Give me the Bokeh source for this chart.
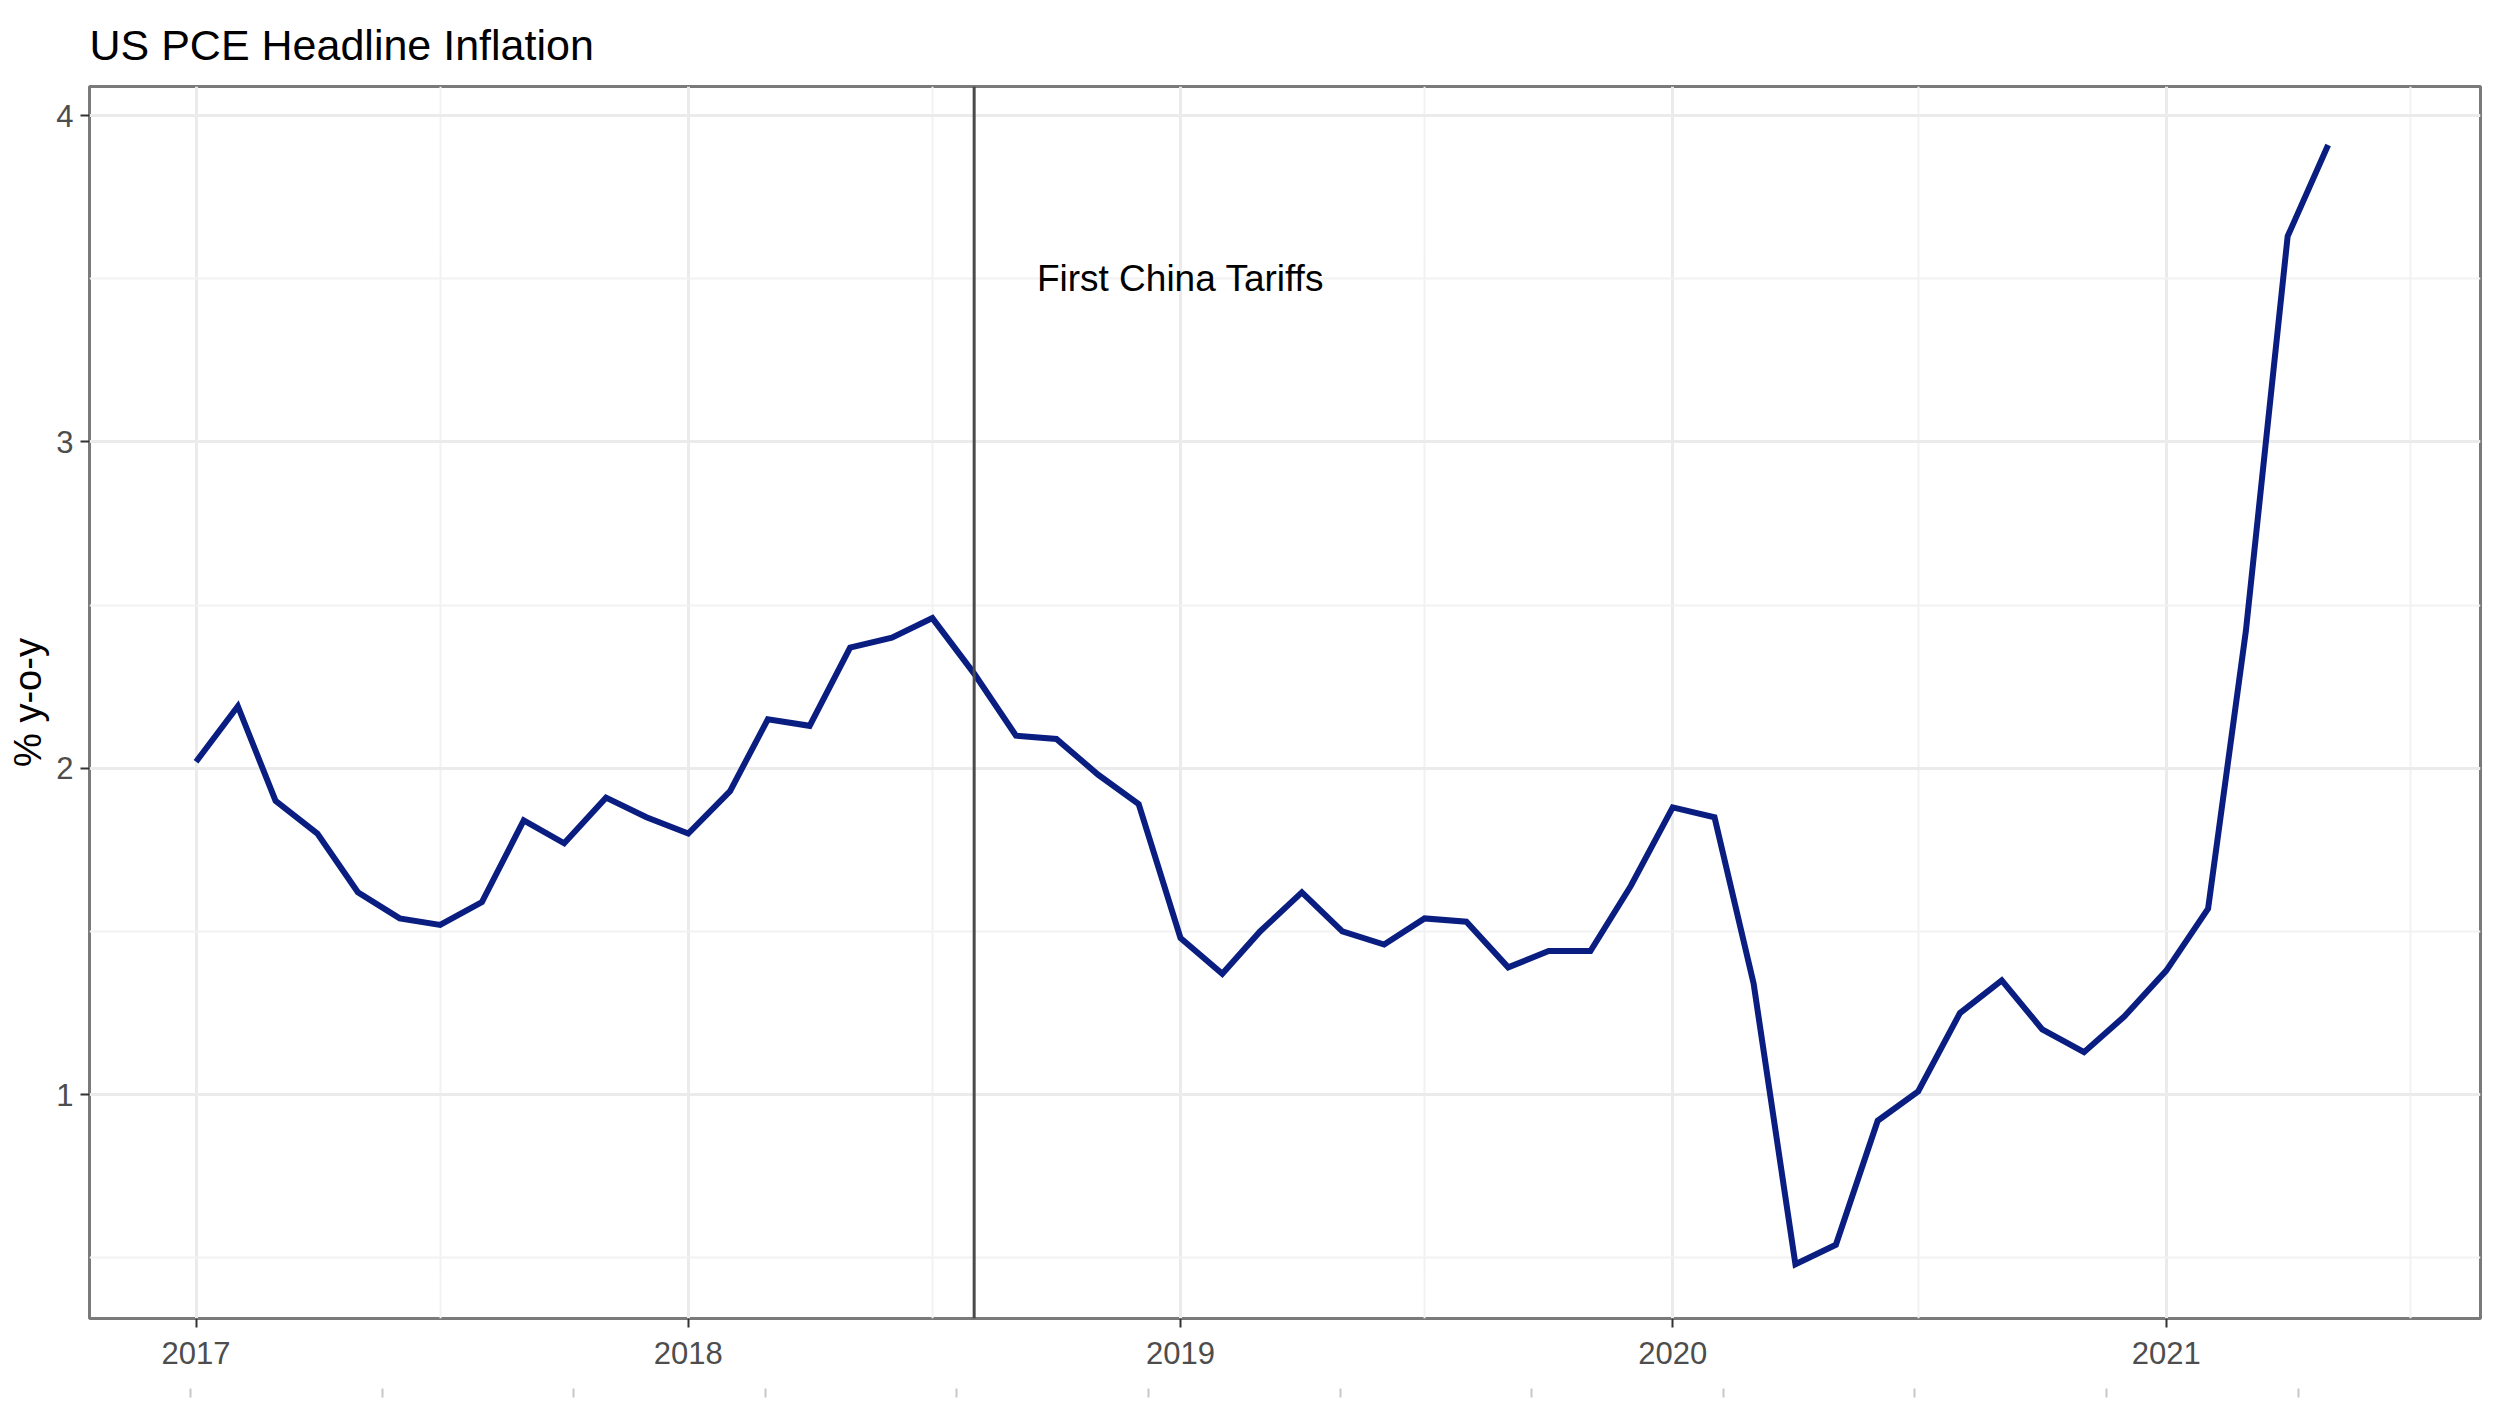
import datetime as dt
import pandas as pd
from bokeh.plotting import figure
from bokeh.models import (ColumnDataSource, Range1d, FixedTicker, DatetimeTickFormatter,
                          Span, Label, LinearAxis)
from bokeh.embed import file_html
from bokeh.resources import INLINE

# ---------------- data ----------------
title_text = "US PCE Headline Inflation"
y_label = "% y-o-y"
annotation_text = "First China Tariffs"

pce_2017 = [2.02, 2.19, 1.90, 1.80, 1.62, 1.54, 1.52, 1.59, 1.84, 1.77, 1.91, 1.85]
pce_2018 = [1.80, 1.93, 2.15, 2.13, 2.37, 2.40, 2.46, 2.29, 2.10, 2.09, 1.98, 1.89]
pce_2019 = [1.48, 1.37, 1.50, 1.62, 1.50, 1.46, 1.54, 1.53, 1.39, 1.44, 1.44, 1.64]
pce_2020 = [1.88, 1.85, 1.34, 0.48, 0.54, 0.92, 1.01, 1.25, 1.35, 1.20, 1.13, 1.24]
pce_2021 = [1.38, 1.57, 2.42, 3.63, 3.91]

pce = pce_2017 + pce_2018 + pce_2019 + pce_2020 + pce_2021
dates = pd.date_range("2017-01-01", periods=len(pce), freq="MS")

year_ticks = ["2017-01-01", "2018-01-01", "2019-01-01", "2020-01-01", "2021-01-01"]
mid_year_ticks = ["2017-07-01", "2018-07-01", "2019-07-01", "2020-07-01", "2021-07-01"]
y_ticks = [1, 2, 3, 4]
y_minor_ticks = [0.5, 1.5, 2.5, 3.5]

tariff_date = "2018-08-01"
annotation_date = "2019-01-01"
annotation_y = 3.5

x_start = "2016-10-14"
x_end = "2021-08-22"
y_start, y_end = 0.314, 4.089

# decorative tick strip below the chart (as seen at the bottom of the reference)
strip_ticks = list(range(12))


def ms(d):
    return pd.Timestamp(d).timestamp() * 1000.0


FONT = "Liberation Sans"

src = ColumnDataSource(dict(date=dates, pce=pce))

p = figure(
    width=2496, height=1404,
    x_axis_type="datetime",
    x_range=Range1d(start=ms(x_start), end=ms(x_end)),
    y_range=Range1d(start=y_start, end=y_end),
    output_backend="svg", toolbar_location=None,
    min_border_left=89, min_border_right=16, min_border_top=86, min_border_bottom=86,
    background_fill_color="white", border_fill_color="white",
)

# title
p.title.text = title_text
p.title.text_font = FONT
p.title.text_font_size = "43px"
p.title.text_font_style = "normal"
p.title.text_color = "black"
p.title.align = "left"
p.title.offset = 0
p.title.standoff = 36

# panel border
p.outline_line_color = "#7A7A7A"
p.outline_line_width = 3

# grids
for g in (p.xgrid[0], p.ygrid[0]):
    g.grid_line_color = "#EBEBEB"
    g.grid_line_width = 3
    g.minor_grid_line_color = "#F2F2F2"
    g.minor_grid_line_width = 2

# x axis
xa = p.xaxis[0]
xa.ticker = FixedTicker(ticks=[ms(d) for d in year_ticks],
                        minor_ticks=[ms(d) for d in mid_year_ticks])
xa.formatter = DatetimeTickFormatter(years="%Y", months="%Y", days="%Y",
                                     hours="%Y", minutes="%Y", seconds="%Y")
xa.axis_line_color = None
xa.major_tick_out = 9
xa.major_tick_in = 0
xa.minor_tick_out = 0
xa.minor_tick_in = 0
xa.major_tick_line_color = "#333333"
xa.major_tick_line_width = 2
xa.major_label_text_font = FONT
xa.major_label_text_font_size = "31px"
xa.major_label_text_color = "#4D4D4D"
xa.major_label_standoff = 14
xa.axis_label = " "
xa.axis_label_text_font_size = "16px"
xa.axis_label_standoff = 2

# y axis
ya = p.yaxis[0]
ya.ticker = FixedTicker(ticks=y_ticks, minor_ticks=y_minor_ticks)
ya.axis_line_color = None
ya.major_tick_out = 9
ya.major_tick_in = 0
ya.minor_tick_out = 0
ya.minor_tick_in = 0
ya.major_tick_line_color = "#333333"
ya.major_tick_line_width = 2
ya.major_label_text_font = FONT
ya.major_label_text_font_size = "31px"
ya.major_label_text_color = "#4D4D4D"
ya.major_label_standoff = 7
ya.axis_label = y_label
ya.axis_label_text_font = FONT
ya.axis_label_text_font_size = "38px"
ya.axis_label_text_font_style = "normal"
ya.axis_label_text_color = "black"
ya.axis_label_standoff = 4

# decorative strip of ticks at the very bottom
p.extra_x_ranges = {"strip": Range1d(start=-0.527, end=11.952)}
strip_axis = LinearAxis(x_range_name="strip", ticker=FixedTicker(ticks=strip_ticks))
strip_axis.axis_line_color = None
strip_axis.major_tick_out = 9
strip_axis.major_tick_in = 0
strip_axis.minor_tick_out = 0
strip_axis.minor_tick_in = 0
strip_axis.major_tick_line_color = "#C8C8C8"
strip_axis.major_tick_line_width = 2
strip_axis.major_label_overrides = {t: "" for t in strip_ticks}
strip_axis.major_label_text_font_size = "0px"
strip_axis.major_label_standoff = 0
p.add_layout(strip_axis, "below")

# tariff line
p.add_layout(Span(location=ms(tariff_date), dimension="height",
                  line_color="#4A4A4A", line_width=3))

# data line
p.line(x="date", y="pce", source=src, line_color="#0A1E82", line_width=6,
       line_join="miter")

# annotation
p.add_layout(Label(x=ms(annotation_date), y=annotation_y, text=annotation_text,
                   text_align="center", text_baseline="middle",
                   text_font=FONT, text_font_size="37px", text_color="black"))

open("out.html", "w").write(file_html(p, INLINE))
